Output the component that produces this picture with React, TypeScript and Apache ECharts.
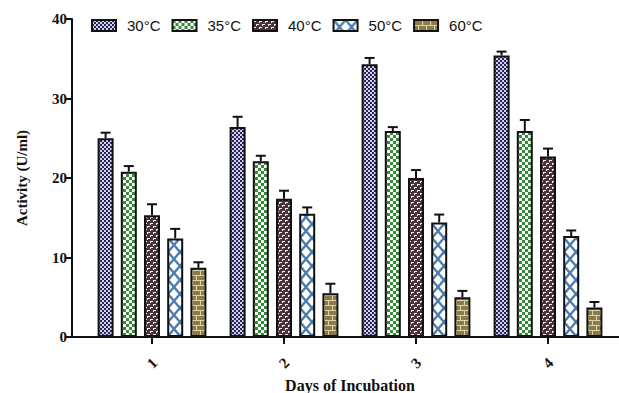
import React, { useEffect, useRef } from "react";
import * as echarts from "echarts";

const categories = ["1", "2", "3", "4"];
const seriesNames = ["30°C", "35°C", "40°C", "50°C", "60°C"];
const t30 = [25.0, 26.4, 34.3, 35.4];
const t35 = [20.8, 22.1, 25.9, 25.9];
const t40 = [15.3, 17.4, 20.0, 22.7];
const t50 = [12.4, 15.5, 14.4, 12.7];
const t60 = [8.7, 5.5, 5.0, 3.7];
const err30 = [0.7, 1.3, 0.8, 0.5];
const err35 = [0.7, 0.7, 0.5, 1.4];
const err40 = [1.4, 1.0, 1.0, 1.0];
const err50 = [1.2, 0.8, 1.0, 0.7];
const err60 = [0.7, 1.2, 0.8, 0.7];
const yTicks = [0, 10, 20, 30, 40];

const values = [t30, t35, t40, t50, t60];
const errors = [err30, err35, err40, err50, err60];

const BAR_W = 16;
const GAP_RATIO = 0.45;

function tile(w: number, h: number, draw: (c: CanvasRenderingContext2D) => void) {
  const cv = document.createElement("canvas");
  cv.width = w;
  cv.height = h;
  const c = cv.getContext("2d")!;
  draw(c);
  return cv;
}

function makePatterns() {
  const p30 = tile(4, 4, (c) => {
    c.fillStyle = "#d4d2ea";
    c.fillRect(0, 0, 4, 4);
    c.fillStyle = "#27245c";
    c.fillRect(0, 0, 2, 2);
    c.fillRect(2, 2, 2, 2);
  });
  const p35 = tile(6, 6, (c) => {
    c.fillStyle = "#ffffff";
    c.fillRect(0, 0, 6, 6);
    c.fillStyle = "#388a38";
    c.fillRect(0, 0, 3, 3);
    c.fillRect(3, 3, 3, 3);
  });
  const p40 = tile(6, 6, (c) => {
    c.fillStyle = "#4a323d";
    c.fillRect(0, 0, 6, 6);
    c.fillStyle = "#f4eff1";
    c.fillRect(0, 1, 3, 1);
    c.fillRect(0, 1, 1, 2);
    c.fillRect(3, 4, 3, 1);
    c.fillRect(3, 4, 1, 2);
  });
  const p50 = tile(12, 14, (c) => {
    c.fillStyle = "#ffffff";
    c.fillRect(0, 0, 12, 14);
    c.strokeStyle = "#4a7bab";
    c.lineWidth = 2.4;
    c.beginPath();
    c.moveTo(-6, -7);
    c.lineTo(18, 21);
    c.moveTo(18, -7);
    c.lineTo(-6, 21);
    c.stroke();
  });
  const p60 = tile(8, 10, (c) => {
    c.fillStyle = "#8a7b48";
    c.fillRect(0, 0, 8, 10);
    c.fillStyle = "#ddd3aa";
    c.fillRect(0, 0, 8, 1);
    c.fillRect(0, 5, 8, 1);
    c.fillRect(0, 0, 1, 5);
    c.fillRect(4, 5, 1, 5);
  });
  return [p30, p35, p40, p50, p60];
}

export default function App() {
  const ref = useRef<HTMLDivElement>(null);
  useEffect(() => {
    if (!ref.current) return;
    const chart = echarts.init(ref.current, null, { renderer: "svg" });
    const pats = makePatterns();
    const offsets = seriesNames.map((_, i) => (i - 2) * BAR_W * (1 + GAP_RATIO));

    const barSeries = seriesNames.map((name, i) => ({
      name,
      type: "bar",
      data: values[i],
      barWidth: BAR_W,
      barGap: GAP_RATIO * 100 + "%",
      itemStyle: {
        color: { image: pats[i], repeat: "repeat" },
        borderColor: "#111",
        borderWidth: 2,
      },
      z: 2,
    }));

    const errData: number[][] = [];
    values.forEach((arr, si) =>
      arr.forEach((v, ci) => errData.push([ci, v, errors[si][ci], si]))
    );

    const option: any = {
      animation: false,
      backgroundColor: "#ffffff",
      legend: {
        data: seriesNames,
        left: 91,
        top: 18,
        padding: 0,
        icon: "rect",
        itemWidth: 24,
        itemHeight: 11,
        itemGap: 11,
        textStyle: {
          fontFamily: "Liberation Sans",
          fontSize: 15,
          color: "#111",
          padding: [0, 0, 0, 6],
        },
      },
      grid: {
        left: 86,
        right: 5,
        top: 19,
        bottom: 56,
        containLabel: false,
        outerBoundsMode: "none",
      },
      xAxis: {
        type: "category",
        data: categories,
        name: "Days of Incubation",
        nameLocation: "middle",
        nameGap: 40,
        nameTextStyle: {
          fontFamily: "Liberation Serif",
          fontWeight: "bold",
          fontSize: 16,
          color: "#111",
        },
        axisLine: { show: false },
        axisTick: {
          show: true,
          alignWithLabel: true,
          length: 7,
          lineStyle: { color: "#111", width: 2 },
        },
        axisLabel: {
          rotate: 45,
          margin: 26,
          align: "center",
          verticalAlign: "middle",
          fontFamily: "Liberation Serif",
          fontWeight: "bold",
          fontSize: 15,
          color: "#111",
        },
      },
      yAxis: {
        type: "value",
        min: yTicks[0],
        max: yTicks[yTicks.length - 1],
        interval: 10,
        offset: 14,
        name: "Activity (U/ml)",
        nameLocation: "middle",
        nameRotate: 90,
        nameGap: 43,
        nameTextStyle: {
          fontFamily: "Liberation Serif",
          fontWeight: "bold",
          fontSize: 15,
          color: "#111",
        },
        splitLine: { show: false },
        axisLine: { show: true, lineStyle: { color: "#111", width: 2 } },
        axisTick: { show: true, length: 6, lineStyle: { color: "#111", width: 2 } },
        axisLabel: {
          margin: 5,
          fontFamily: "Liberation Serif",
          fontWeight: "bold",
          fontSize: 15,
          color: "#111",
        },
      },
      series: [
        ...barSeries,
        {
          type: "custom",
          name: "err",
          z: 3,
          data: errData,
          renderItem: (params: any, api: any) => {
            const ci = api.value(0);
            const v = api.value(1);
            const e = api.value(2);
            const si = api.value(3);
            const base = api.coord([ci, v]);
            const top = api.coord([ci, v + e]);
            const x = base[0] + offsets[si];
            return {
              type: "group",
              children: [
                {
                  type: "line",
                  shape: { x1: x, y1: base[1], x2: x, y2: top[1] },
                  style: { stroke: "#111", lineWidth: 2 },
                },
                {
                  type: "line",
                  shape: { x1: x - 5, y1: top[1], x2: x + 5, y2: top[1] },
                  style: { stroke: "#111", lineWidth: 2 },
                },
              ],
            };
          },
        },
      ],
      graphic: [
        {
          type: "line",
          shape: { x1: 72, y1: 337, x2: 619, y2: 337 },
          style: { stroke: "#111", lineWidth: 2 },
          z: 10,
        },
      ],
    };
    chart.setOption(option);
    return () => chart.dispose();
  }, []);
  return (
    <div
      ref={ref}
      style={{ position: "absolute", left: 0, top: 0, width: 619, height: 393 }}
    />
  );
}
